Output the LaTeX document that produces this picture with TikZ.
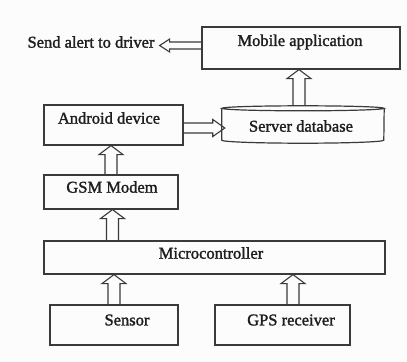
\documentclass[tikz,border=0pt]{standalone}
\usepackage{fontspec}
\newfontfamily\diafont{Liberation Serif}[FakeBold=1.6]
\usetikzlibrary{calc}
\definecolor{bgcol}{HTML}{FCFCFC}
\definecolor{linecol}{HTML}{3A3A3A}
\definecolor{textcol}{HTML}{1E1E1E}
\tikzset{
  box/.style={draw=linecol, line width=1.2bp, minimum width=#1, inner sep=0pt},
  label text/.style={text=textcol, font=\diafont\fontsize{16.5bp}{18bp}\selectfont, inner sep=0pt},
  fat/.style={draw=linecol, line width=1.1bp, line join=miter},
}
% #1 start, #2 end, #3 half shaft width, #4 half head width, #5 head length
\newcommand\fatarrow[5]{%
  \coordinate (fa-s) at #1;
  \coordinate (fa-e) at #2;
  \coordinate (fa-h) at ($(fa-e)!#5!(fa-s)$);
  \draw[fat] ($(fa-s)!#3!90:(fa-e)$) -- ($(fa-h)!#3!90:(fa-e)$) -- ($(fa-h)!#4!90:(fa-e)$)
     -- (fa-e) -- ($(fa-h)!#4!-90:(fa-e)$) -- ($(fa-h)!#3!-90:(fa-e)$) -- ($(fa-s)!#3!-90:(fa-e)$);
}
\begin{document}
\begin{tikzpicture}[x=1bp,y=-1bp]
\fill[bgcol] (0,0) rectangle (407,362);
\useasboundingbox (0,0) rectangle (407,362);

% boxes
\node[box=198bp, minimum height=42bp] (mobile) at (301,48) {};
\node[box=139bp, minimum height=40bp] (android) at (113.5,125) {};
\node[minimum width=162bp, minimum height=31.5bp, inner sep=0pt] (server) at (303,124.25) {};
\node[box=134bp, minimum height=34bp] (gsm) at (111,192) {};
\node[box=341bp, minimum height=33bp] (micro) at (214.5,257.5) {};
\node[box=128bp, minimum height=40bp] (sensor) at (114,325) {};
\node[box=135bp, minimum height=40bp] (gps) at (282.5,325) {};

% cylinder
\draw[draw=linecol, line width=1.2bp] (server.north west) -- (server.south west)
  arc[start angle=180, end angle=360, x radius=81bp, y radius=3bp] -- (server.north east);
\draw[draw=linecol, line width=1.2bp] (server.north) ellipse[x radius=81bp, y radius=2.5bp];

% texts
\node[label text] (mobile-t) at (300,42) {Mobile application};
\node[label text] (send) at (91,42) {Send alert to driver};
\node[label text] (android-t) at (109,118) {Android device};
\node[label text] (server-t) at (301,126) {Server database};
\node[label text] (gsm-t) at (112,187) {GSM Modem};
\node[label text] (micro-t) at (211,253) {Microcontroller};
\node[label text] (sensor-t) at (127,320) {Sensor};
\node[label text] (gps-t) at (291,320) {GPS receiver};

% arrows
\coordinate (alert-s) at ([yshift=2.5bp]mobile.west);
\coordinate (alert-x) at ([xshift=5bp]send.east);
\coordinate (alert-e) at (alert-x |- alert-s);
\fatarrow{(alert-s)}{(alert-e)}{3.5bp}{6.5bp}{10bp}

\coordinate (as-s) at ([yshift=-3bp]android.east);
\coordinate (as-x) at ([xshift=3bp]server.west);
\coordinate (as-e) at (as-x |- as-s);
\fatarrow{(as-s)}{(as-e)}{5bp}{8.5bp}{12bp}

\coordinate (sm-s) at ([xshift=-4bp,yshift=2.5bp]server.north);
\coordinate (sm-e) at (sm-s |- mobile.south);
\fatarrow{(sm-s)}{(sm-e)}{6bp}{12bp}{9bp}

\coordinate (ga-e) at (gsm.north |- android.south);
\fatarrow{(gsm.north)}{(ga-e)}{6bp}{12bp}{9bp}

\coordinate (mg-s) at ([xshift=1.5bp]gsm.south |- micro.north);
\coordinate (mg-e) at ([xshift=1.5bp]gsm.south);
\fatarrow{(mg-s)}{(mg-e)}{6bp}{12bp}{9bp}

\coordinate (sm2-e) at (sensor.north |- micro.south);
\fatarrow{(sensor.north)}{(sm2-e)}{6bp}{12bp}{9bp}

\coordinate (gm-s) at ([xshift=10.5bp]gps.north);
\coordinate (gm-e) at (gm-s |- micro.south);
\fatarrow{(gm-s)}{(gm-e)}{6bp}{12bp}{9bp}
\end{tikzpicture}
\end{document}
